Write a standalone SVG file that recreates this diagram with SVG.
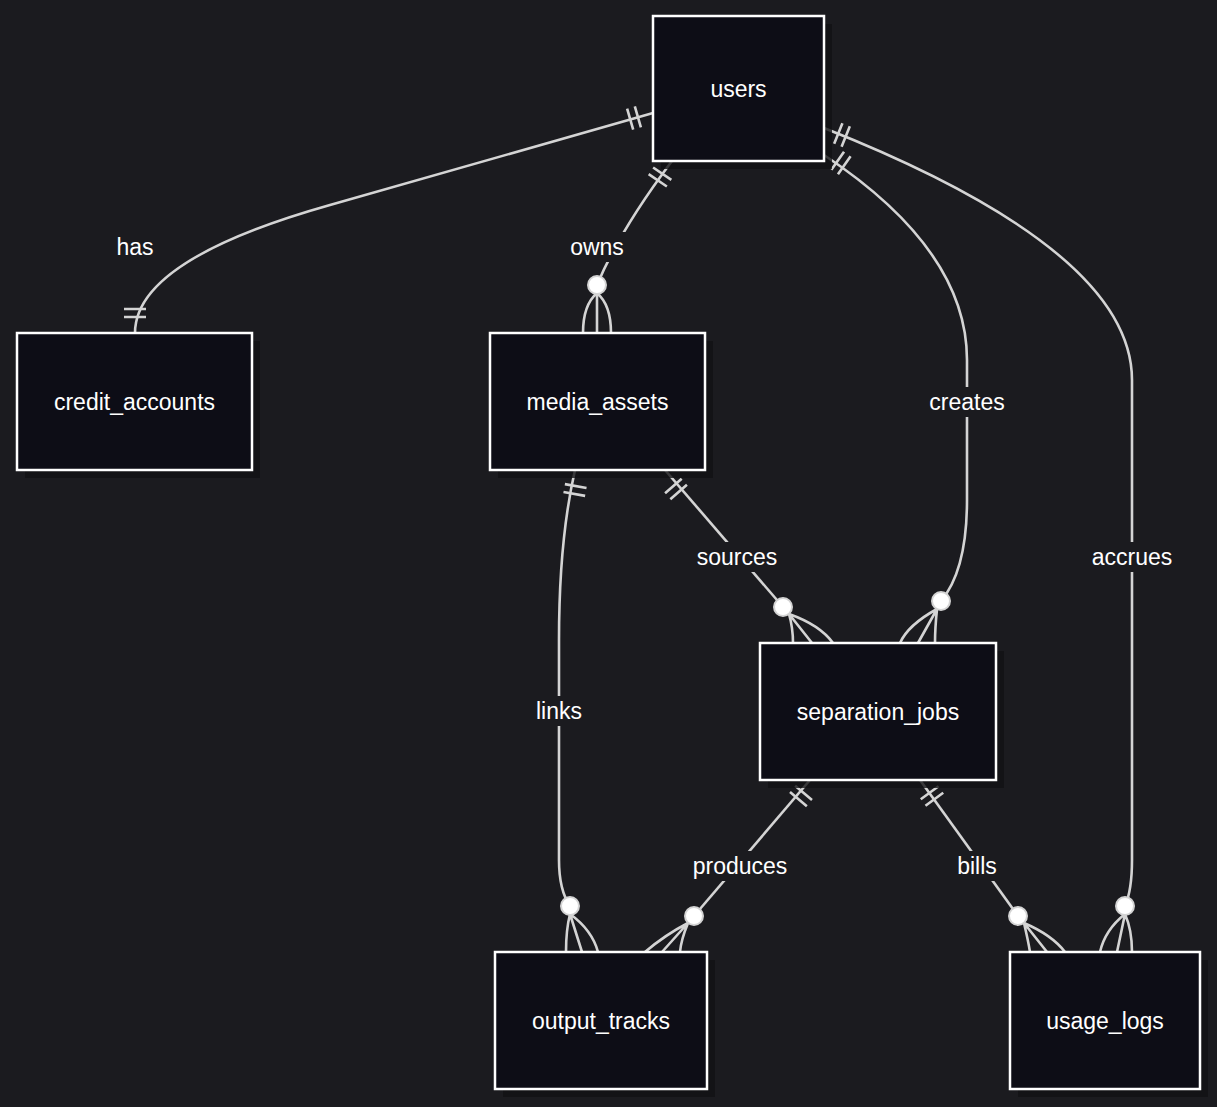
<svg xmlns="http://www.w3.org/2000/svg" xmlns:xlink="http://www.w3.org/1999/xlink" width="1217" height="1107" viewBox="0 0 1217 1107">
<style>
.n rect.b{fill:#0d0d16;stroke:#ffffff;stroke-width:2.5}
.n rect.s{fill:#111114;opacity:0.8}
.n text{font-family:"Liberation Sans",Arial,sans-serif;font-size:23px;fill:#ffffff;text-anchor:middle;dominant-baseline:central}
.e path,.e use{fill:none;stroke:#d4d4d4;stroke-width:2.6}
.e circle{fill:#ffffff;stroke:#d4d4d4;stroke-width:2}
.l rect{fill:#1b1b1f}
.l text{font-family:"Liberation Sans",Arial,sans-serif;font-size:23px;fill:#ffffff;text-anchor:middle;dominant-baseline:central}
</style>
<defs><path id="bars" d="M-4,-11 V11 M4,-11 V11"/></defs>
<rect width="1217" height="1107" fill="#1b1b1f"/>
<g class="e">
<path d="M653,113 L330,205 Q135,260 135,333"/>
<path d="M672,161 Q620,230 597,285"/>
<path d="M824,155 Q967,250 967,360 L967,500 Q967,570 941,601"/>
<path d="M824,128 Q1132,250 1132,380 L1132,860 Q1132,890 1125,906"/>
<path d="M575,470 Q559,540 559,640 L559,860 Q559,890 570,906"/>
<path d="M665,470 L783,607"/>
<path d="M810,780 L694,916"/>
<path d="M920,780 L1018,916"/>
<use href="#bars" transform="translate(634,118) rotate(-16)"/>
<use href="#bars" transform="translate(135,313) rotate(90)"/>
<use href="#bars" transform="translate(660,177) rotate(124)"/>
<use href="#bars" transform="translate(841,163) rotate(35)"/>
<use href="#bars" transform="translate(842,135) rotate(22)"/>
<use href="#bars" transform="translate(575,490) rotate(100)"/>
<use href="#bars" transform="translate(676,489) rotate(49)"/>
<use href="#bars" transform="translate(801,796) rotate(130)"/>
<use href="#bars" transform="translate(932,796) rotate(54)"/>
<path d="M597,293 Q583,305 583,333 M597,293 Q611,305 611,333 M597,293 V333"/>
<path d="M789,614 Q820,625 833,643 M789,614 Q793,628 793,643 M789,614 L812,643"/>
<path d="M937,609 Q935,628 935,643 M937,609 Q908,625 900,643 M937,609 L918,643"/>
<path d="M1125,914 Q1132,930 1132,952 M1125,914 Q1105,930 1100,952 M1125,914 L1117,952"/>
<path d="M570,914 Q566,930 566,952 M570,914 Q592,930 598,952 M570,914 L582,952"/>
<path d="M688,923 Q665,935 645,952 M688,923 Q681,940 680,952 M688,923 L662,952"/>
<path d="M1024,923 Q1028,940 1030,952 M1024,923 Q1052,935 1065,952 M1024,923 L1047,952"/>
<circle cx="597" cy="285" r="9"/>
<circle cx="783" cy="607" r="9"/>
<circle cx="941" cy="601" r="9"/>
<circle cx="1125" cy="906" r="9"/>
<circle cx="570" cy="906" r="9"/>
<circle cx="694" cy="916" r="9"/>
<circle cx="1018" cy="916" r="9"/>
</g>
<g class="l">
<rect x="108" y="232" width="54" height="30"/><text x="135" y="247">has</text>
<rect x="563" y="232" width="68" height="30"/><text x="597" y="247">owns</text>
<rect x="922" y="387" width="90" height="30"/><text x="967" y="402">creates</text>
<rect x="1086" y="542" width="92" height="30"/><text x="1132" y="557">accrues</text>
<rect x="528" y="696" width="62" height="30"/><text x="559" y="711">links</text>
<rect x="690" y="542" width="94" height="30"/><text x="737" y="557">sources</text>
<rect x="686" y="851" width="108" height="30"/><text x="740" y="866">produces</text>
<rect x="950" y="851" width="54" height="30"/><text x="977" y="866">bills</text>
</g>
<g id="users" class="n"><rect class="s" x="661" y="24" width="171" height="145"/><rect class="b" x="653" y="16" width="171" height="145"/><text x="738.5" y="88.5">users</text></g>
<g id="credit_accounts" class="n"><rect class="s" x="25" y="341" width="235" height="137"/><rect class="b" x="17" y="333" width="235" height="137"/><text x="134.5" y="401.5">credit_accounts</text></g>
<g id="media_assets" class="n"><rect class="s" x="498" y="341" width="215" height="137"/><rect class="b" x="490" y="333" width="215" height="137"/><text x="597.5" y="401.5">media_assets</text></g>
<g id="separation_jobs" class="n"><rect class="s" x="768" y="651" width="236" height="137"/><rect class="b" x="760" y="643" width="236" height="137"/><text x="878" y="711.5">separation_jobs</text></g>
<g id="output_tracks" class="n"><rect class="s" x="503" y="960" width="212" height="137"/><rect class="b" x="495" y="952" width="212" height="137"/><text x="601" y="1020.5">output_tracks</text></g>
<g id="usage_logs" class="n"><rect class="s" x="1018" y="960" width="190" height="137"/><rect class="b" x="1010" y="952" width="190" height="137"/><text x="1105" y="1020.5">usage_logs</text></g>
</svg>
